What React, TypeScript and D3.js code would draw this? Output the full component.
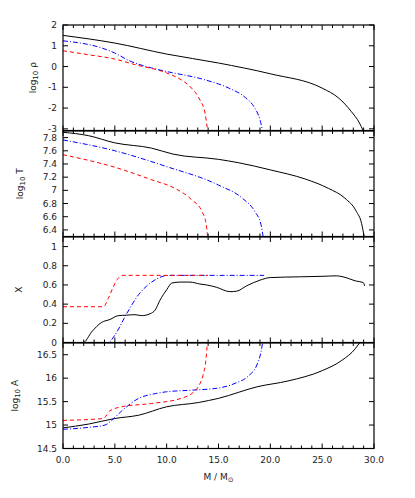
import React, { useEffect, useRef } from "react";
import * as d3 from "d3";

// mass coordinate M / Msun against each quantity
const rhoBlack: [number, number][] = [[0, 1.5], [5, 1.13], [10, 0.6], [15, 0.17], [20, -0.35], [25, -1.04], [26.6, -1.52], [27.8, -2.16], [28.6, -2.72], [28.95, -3.08]];
const rhoBlue: [number, number][] = [[0, 1.24], [4.05, 0.84], [5, 0.65], [6.3, 0.3], [8.55, -0.07], [10, -0.24], [13.7, -0.64], [16, -1.04], [17.6, -1.5], [18.5, -2.0], [19.0, -2.56], [19.25, -3.08]];
const rhoRed: [number, number][] = [[0, 0.76], [2.44, 0.57], [5, 0.36], [6.95, 0.09], [10, -0.31], [11.4, -0.64], [12.4, -1.04], [13.2, -1.6], [13.7, -2.24], [13.95, -3.08]];

const tBlack: [number, number][] = [[0, 7.88], [2.44, 7.83], [5, 7.72], [8.55, 7.64], [10.6, 7.55], [15, 7.47], [16.9, 7.42], [20, 7.31], [23.4, 7.17], [25.6, 7.03], [27.2, 6.88], [28.3, 6.68], [28.8, 6.5], [29.05, 6.3]];
const tBlue: [number, number][] = [[0, 7.765], [5, 7.6], [10, 7.36], [15, 7.08], [17.3, 6.88], [18.5, 6.68], [19.1, 6.48], [19.3, 6.3]];
const tRed: [number, number][] = [[0, 7.54], [5, 7.35], [8.55, 7.16], [10.8, 7.03], [12.4, 6.86], [13.4, 6.68], [13.8, 6.5], [13.95, 6.3]];

const xBlack: [number, number][] = [[0, 0], [1.96, 0], [2.76, 0.11], [3.73, 0.21], [4.53, 0.24], [5.33, 0.28], [6.14, 0.285], [6.94, 0.29], [7.59, 0.28], [8.4, 0.3], [8.9, 0.34], [9.35, 0.44], [10, 0.55], [10.5, 0.62], [11.3, 0.63], [12.25, 0.63], [13.2, 0.61], [13.86, 0.6], [14.8, 0.576], [16.1, 0.53], [16.75, 0.535], [17.7, 0.59], [19, 0.65], [20, 0.677], [22.9, 0.685], [25, 0.69], [26.4, 0.695], [27, 0.685], [28.3, 0.64], [28.96, 0.625], [29.1, 0.59]];
const xBlue: [number, number][] = [[0, 0], [4.37, 0], [5, 0.077], [6.14, 0.3], [7.3, 0.5], [8.55, 0.63], [9.85, 0.695], [10.5, 0.7], [19.4, 0.7]];
const xRed: [number, number][] = [[0, 0.373], [3.89, 0.373], [4.37, 0.46], [4.85, 0.58], [5.33, 0.67], [5.82, 0.7], [13.95, 0.7]];

const aBlack: [number, number][] = [[0, 14.94], [2.44, 15.02], [5, 15.14], [7.3, 15.21], [10, 15.39], [13.05, 15.48], [15, 15.57], [18.8, 15.82], [21.7, 15.94], [25, 16.16], [26.9, 16.38], [28.2, 16.63], [28.6, 16.75]];
const aBlue: [number, number][] = [[0, 14.91], [2.44, 14.95], [4.05, 15.0], [4.7, 15.1], [5.66, 15.3], [7.3, 15.57], [8.9, 15.67], [10, 15.71], [12.1, 15.74], [15, 15.79], [16.6, 15.89], [17.9, 16.05], [18.7, 16.28], [19.1, 16.56], [19.25, 16.75]];
const aRed: [number, number][] = [[0, 15.1], [3.9, 15.14], [4.5, 15.3], [5.66, 15.39], [8.55, 15.46], [11.4, 15.57], [12.4, 15.67], [13.05, 15.82], [13.5, 16.06], [13.8, 16.42], [13.92, 16.75]];

const xTicks = [0, 5, 10, 15, 20, 25, 30];

const panels = [
  { label: "ρ", sub: true, domain: [-3.08, 2], ticks: [-3, -2, -1, 0, 1, 2], fmt: (d: number) => String(d), labelX: 36, series: [rhoBlack, rhoBlue, rhoRed] },
  { label: "T", sub: true, domain: [6.3, 7.9], ticks: [6.4, 6.6, 6.8, 7, 7.2, 7.4, 7.6, 7.8], fmt: (d: number) => String(d), labelX: 23, series: [tBlack, tBlue, tRed] },
  { label: "X", sub: false, domain: [0, 1.1], ticks: [0, 0.2, 0.4, 0.6, 0.8, 1], fmt: (d: number) => String(d), labelX: 22, series: [xBlack, xBlue, xRed] },
  { label: "A", sub: true, domain: [14.5, 16.75], ticks: [14.5, 15, 15.5, 16, 16.5], fmt: (d: number) => String(d), labelX: 18, series: [aBlack, aBlue, aRed] },
];

const styles = [
  { color: "#000000", dash: null },
  { color: "#0000ff", dash: "5,2,1,2" },
  { color: "#ff0000", dash: "4,3" },
];

const App = () => {
  const ref = useRef<SVGSVGElement>(null);

  useEffect(() => {
    const svg = d3.select(ref.current);
    svg.selectAll("*").remove();

    const left = 63;
    const right = 374;
    const top0 = 25;
    const step = 106;
    const ph = 105.5;
    const font = "DejaVu Sans, sans-serif";

    const x = d3.scaleLinear().domain([0, 30]).range([left, right]);
    const minor = d3.range(0, 31, 1);

    panels.forEach((p, i) => {
      const top = top0 + i * step;
      const bottom = top + ph;
      const y = d3.scaleLinear().domain(p.domain).range([bottom, top]);
      const g = svg.append("g");

      g.append("clipPath")
        .attr("id", "clip" + i)
        .append("rect")
        .attr("x", left)
        .attr("y", top)
        .attr("width", right - left)
        .attr("height", ph);

      // x ticks, top and bottom, inward
      minor.forEach((m) => {
        const len = m % 5 === 0 ? 5 : 3;
        g.append("line").attr("x1", x(m)).attr("x2", x(m)).attr("y1", bottom).attr("y2", bottom - len).attr("stroke", "#000");
        g.append("line").attr("x1", x(m)).attr("x2", x(m)).attr("y1", top).attr("y2", top + len).attr("stroke", "#000");
      });

      // y ticks left and right
      p.ticks.forEach((t) => {
        g.append("line").attr("x1", left).attr("x2", left + 5).attr("y1", y(t)).attr("y2", y(t)).attr("stroke", "#000");
        g.append("line").attr("x1", right).attr("x2", right - 5).attr("y1", y(t)).attr("y2", y(t)).attr("stroke", "#000");
        g.append("text")
          .attr("x", 57)
          .attr("y", y(t))
          .attr("dy", "0.35em")
          .attr("text-anchor", "end")
          .attr("font-family", font)
          .attr("font-size", 9)
          .attr("fill", "#222")
          .text(p.fmt(t));
      });

      // curves
      const line = d3
        .line<[number, number]>()
        .x((d) => x(d[0]))
        .y((d) => y(d[1]))
        .curve(d3.curveMonotoneX);

      p.series.forEach((s, k) => {
        g.append("path")
          .datum(s)
          .attr("d", line)
          .attr("fill", "none")
          .attr("stroke", styles[k].color)
          .attr("stroke-width", 1)
          .attr("stroke-dasharray", styles[k].dash)
          .attr("clip-path", `url(#clip${i})`);
      });

      g.append("rect")
        .attr("x", left)
        .attr("y", top)
        .attr("width", right - left)
        .attr("height", ph)
        .attr("fill", "none")
        .attr("stroke", "#000")
        .attr("stroke-width", 1.2);

      // y label
      const lab = g
        .append("text")
        .attr("transform", `translate(${p.labelX},${(top + bottom) / 2}) rotate(-90)`)
        .attr("text-anchor", "middle")
        .attr("font-family", font)
        .attr("font-size", 9)
        .attr("fill", "#222");
      if (p.sub) {
        lab.append("tspan").text("log");
        lab.append("tspan").attr("font-size", 7).attr("dy", 2).text("10");
        lab.append("tspan").attr("dy", -2).text(" " + p.label);
      } else {
        lab.text(p.label);
      }

      if (i === panels.length - 1) {
        xTicks.forEach((t) => {
          g.append("text")
            .attr("x", x(t))
            .attr("y", bottom + 14)
            .attr("text-anchor", "middle")
            .attr("font-family", font)
            .attr("font-size", 9)
            .attr("fill", "#222")
            .text(t.toFixed(1));
        });
        const xl = g
          .append("text")
          .attr("x", (left + right) / 2)
          .attr("y", bottom + 31)
          .attr("text-anchor", "middle")
          .attr("font-family", font)
          .attr("font-size", 9)
          .attr("fill", "#222");
        xl.append("tspan").text("M / M");
        xl.append("tspan").attr("font-size", 7).attr("dy", 2).text("⊙");
      }
    });
  }, []);

  return <svg ref={ref} width={415} height={498} style={{ position: "absolute", left: 0, top: 0, background: "#fff" }} />;
};

export default App;
